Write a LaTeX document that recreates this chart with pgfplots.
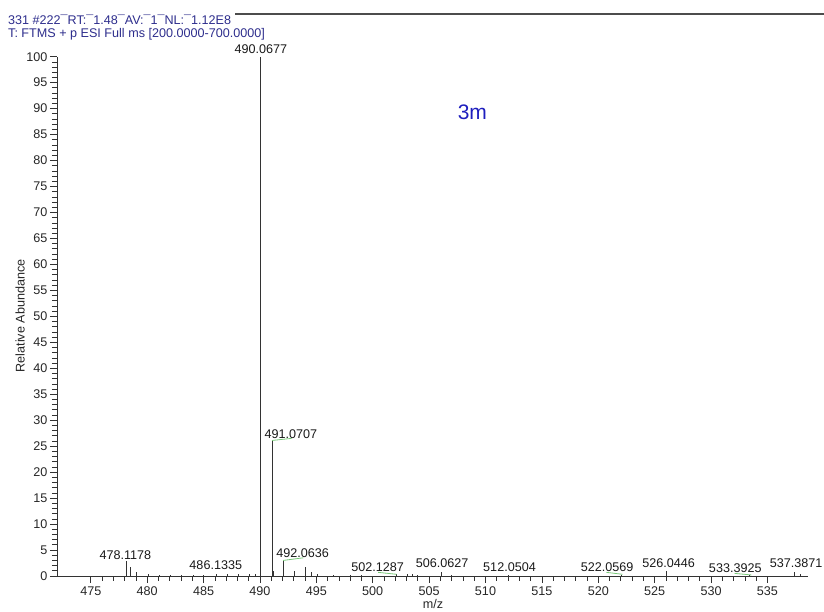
\documentclass[border=0pt]{standalone}
\usepackage{fontspec}
\setmainfont{Liberation Sans}
\usepackage{pgfplots}
\pgfplotsset{compat=1.18}
\definecolor{ttl}{RGB}{45,45,140}
\definecolor{lbl}{RGB}{30,30,190}
\definecolor{lead}{RGB}{120,200,120}
\begin{document}
\begin{tikzpicture}
\useasboundingbox (-57pt,-36pt) rectangle (767pt,576pt);
\begin{axis}[
  scale only axis, width=751pt, height=519.3pt,
  at={(0pt,0pt)}, anchor=south west,
  xmin=472, xmax=538.6, ymin=0, ymax=100,
  axis lines*=left,
  axis line style={-, black!80, line width=0.8pt},
  xtick={475,480,...,535}, ytick={0,5,...,100},
  minor x tick num=4, minor y tick num=4,
  tick align=outside, major tick length=7pt, minor tick length=5pt,
  tick style={black!80, line width=0.7pt},
  every tick label/.append style={font=\fontsize{12.6}{14}\selectfont, text=black!85},
  yticklabel style={xshift=1pt},
  /pgf/number format/assume math mode=true,
  clip=false,
]
\addplot[ycomb, black!80, line width=0.8pt] coordinates {
(478.1178,2.8) (478.55,1.8) (479.07,0.7) (480.1,0.4) (481.1,0.2) (482.05,0.15)
(483.0,0.2) (484.1,0.15) (485.0,0.1) (486.1335,0.4) (487.1,0.3) (488.05,0.4)
(489.07,0.3) (489.6,0.4) (490.0677,100) (491.0707,26.1) (491.2,0.9)
(492.0636,3.0) (493.07,1.0) (494.06,1.8) (494.56,0.8) (495.06,0.4)
(496.5,0.15) (498.0,0.2) (499.0,0.1) (502.1287,0.3) (503.1,0.3) (503.5,0.3)
(504.0,0.2) (506.0627,0.8) (507.0,0.2) (512.0504,0.2) (522.0569,0.2)
(526.0446,0.9) (533.3925,0.2) (537.3871,0.7) (537.9,0.3)
};
% leader lines
\draw[lead, line width=0.8pt] (axis cs:491.07,26.1) -- (axis cs:492.8,26.5);
\draw[lead, line width=0.8pt] (axis cs:492.06,3.0) -- (axis cs:493.84,3.5);
\draw[lead, line width=0.8pt] (axis cs:500.48,0.7) -- (axis cs:502.11,0.33);
\draw[lead, line width=0.8pt] (axis cs:520.73,0.7) -- (axis cs:522.15,0.33);
\draw[lead, line width=0.8pt] (axis cs:532.1,0.5) -- (axis cs:533.58,0.2);
% peak labels
\begin{scope}[every node/.style={anchor=base, inner sep=0pt, font=\fontsize{12.6}{14}\selectfont, text=black!90}]
\node at (axis cs:490.09,100.7) {490.0677};
\node at (axis cs:492.75,26.5) {491.0707};
\node at (axis cs:493.79,3.6) {492.0636};
\node at (axis cs:478.06,3.2) {478.1178};
\node at (axis cs:486.08,1.3) {486.1335};
\node at (axis cs:500.44,0.83) {502.1287};
\node at (axis cs:506.15,1.6) {506.0627};
\node at (axis cs:512.13,0.83) {512.0504};
\node at (axis cs:520.78,0.83) {522.0569};
\node at (axis cs:526.24,1.6) {526.0446};
\node at (axis cs:532.15,0.64) {533.3925};
\node at (axis cs:537.55,1.6) {537.3871};
\end{scope}
\node[text=lbl, font=\fontsize{21}{24}\selectfont, inner sep=0pt] at (axis cs:472+ 415.5/11.28,89.3) {3m};
\end{axis}
% header
\draw[black!70, line width=1.5pt] (178pt,562pt) -- (767pt,562pt);
\node[anchor=base west, inner sep=0pt, text=ttl, font=\fontsize{12.6}{14}\selectfont] at (-49pt,551pt) {331 \#222¯RT:¯1.48¯AV:¯1¯NL:¯1.12E8};
\node[anchor=base west, inner sep=0pt, text=ttl, font=\fontsize{12.6}{14}\selectfont] at (-49pt,538.3pt) {T: FTMS + p ESI Full ms [200.0000-700.0000]};
% axis titles
\node[font=\fontsize{12.6}{14}\selectfont, text=black!85] at (376pt,-28pt) {m/z};
\node[font=\fontsize{12.6}{14}\selectfont, text=black!85, rotate=90] at (-37pt,260pt) {Relative Abundance};
\end{tikzpicture}
\end{document}
